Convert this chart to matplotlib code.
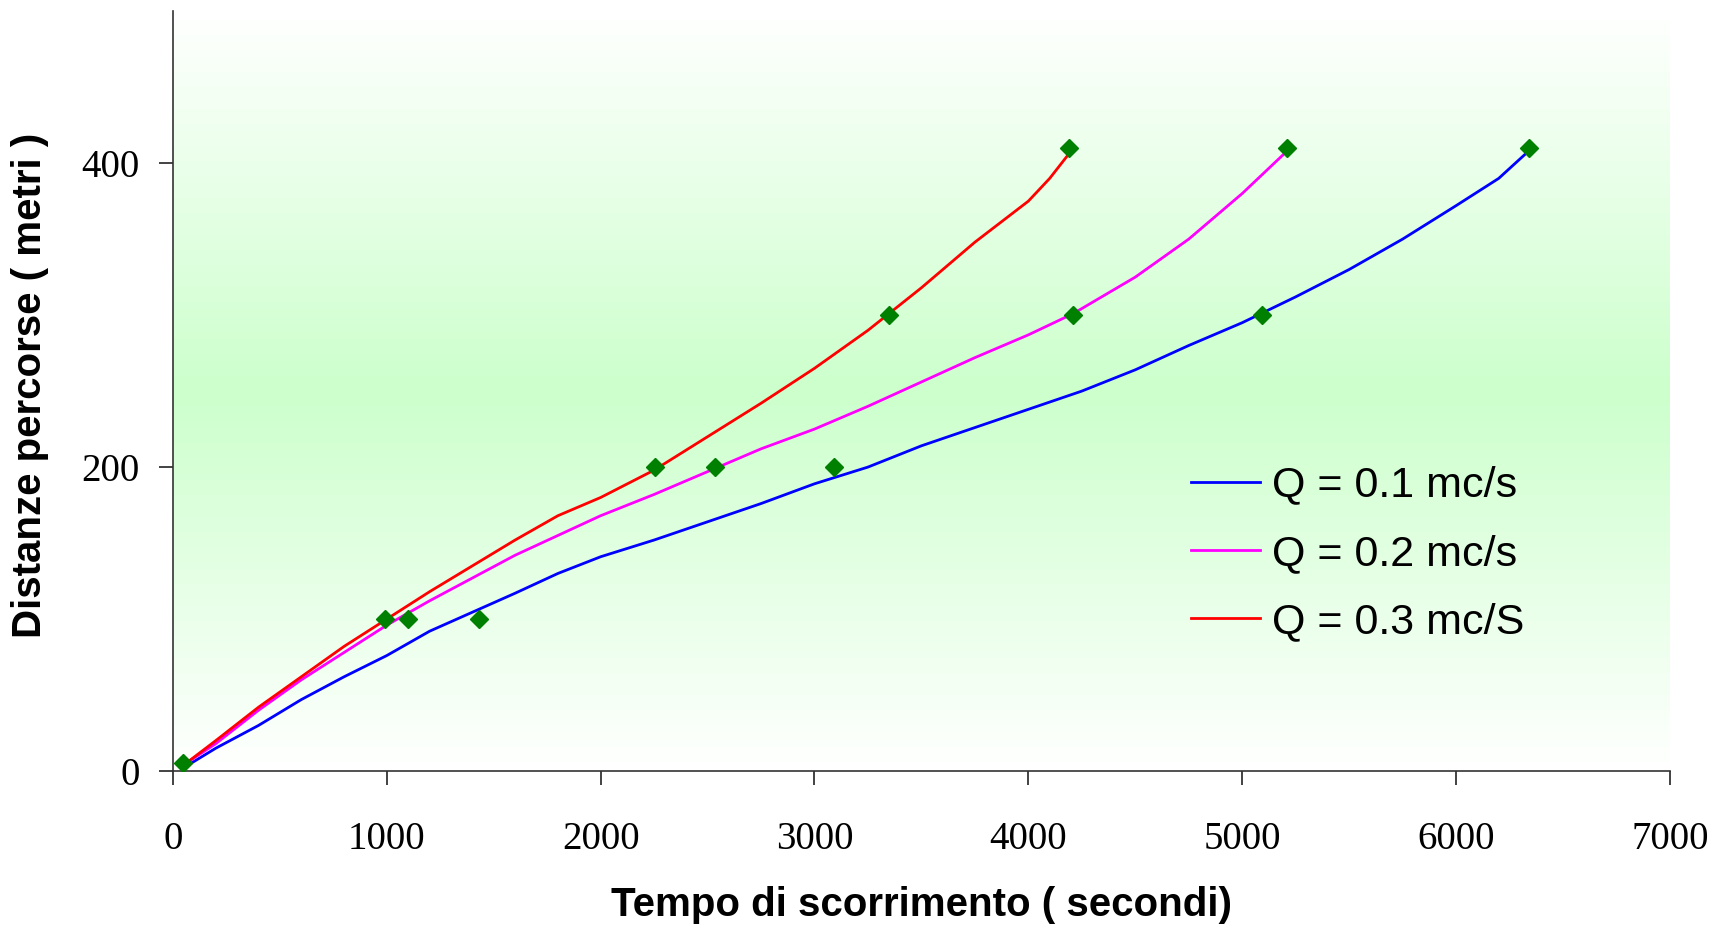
import numpy as np
import matplotlib.pyplot as plt
from matplotlib.colors import LinearSegmentedColormap

# Q = 0.1 mc/s
t_q1 = [60, 200, 400, 600, 800, 1000, 1200, 1440, 1600, 1800, 2000, 2250, 2500, 2750,
        3000, 3250, 3500, 3750, 4000, 4250, 4500, 4750, 5000, 5250, 5500, 5750, 6000, 6200, 6340]
d_q1 = [3, 15, 30, 47, 62, 76, 92, 107, 117, 130, 141, 152, 164, 176,
        189, 200, 214, 226, 238, 250, 264, 280, 295, 312, 330, 350, 372, 390, 408]
# Q = 0.2 mc/s
t_q2 = [60, 200, 400, 600, 800, 1000, 1200, 1400, 1600, 1800, 2000, 2250, 2500, 2750,
        3000, 3250, 3500, 3750, 4000, 4210, 4500, 4750, 5000, 5210]
d_q2 = [5, 18, 40, 60, 78, 96, 112, 127, 142, 155, 168, 182, 197, 212,
        225, 240, 256, 272, 287, 301, 325, 350, 380, 408]
# Q = 0.3 mc/S
t_q3 = [60, 200, 400, 600, 800, 1000, 1200, 1400, 1600, 1800, 2000, 2250, 2500, 2750,
        3000, 3250, 3500, 3750, 4000, 4100, 4200]
d_q3 = [5, 20, 42, 62, 82, 100, 118, 135, 152, 168, 180, 198, 220, 242,
        265, 290, 318, 348, 375, 390, 408]

# measured points (green diamonds)
meas_t = [46, 993, 1101, 1430, 2253, 2535, 3091, 3348, 4207, 5092, 4192, 5210, 6341]
meas_d = [5, 100, 100, 100, 200, 200, 200, 300, 300, 300, 410, 410, 410]

labels = ['Q = 0.1 mc/s', 'Q = 0.2 mc/s', 'Q = 0.3 mc/S']
colors = ['#0000ff', '#ff00ff', '#ff0000']

fig = plt.figure(figsize=(17.25, 9.35), dpi=100)
ax = fig.add_axes([0.1003, 0.1754, 0.8677, 0.8126])

# vertical gradient background: white - light green - white
cmap = LinearSegmentedColormap.from_list('bg', ['#ffffff', '#ccffcc', '#ffffff'])
grad = np.linspace(0, 1, 256).reshape(-1, 1)
ax.imshow(grad, cmap=cmap, aspect='auto', extent=[0, 1, 0, 1],
          transform=ax.transAxes, zorder=0)

for t, d, lab, c in zip([t_q1, t_q2, t_q3], [d_q1, d_q2, d_q3], labels, colors):
    ax.plot(t, d, color=c, lw=2, label=lab, zorder=2)
ax.plot(meas_t, meas_d, linestyle='none', marker='D', ms=9, color='#008000', zorder=3)

ax.set_xlim(0, 7000)
ax.set_ylim(0, 500)
ax.set_xticks(range(0, 7001, 1000))
ax.set_yticks([0, 200, 400])
for s in ['top', 'right']:
    ax.spines[s].set_visible(False)
for s in ['left', 'bottom']:
    ax.spines[s].set_color('#333333')
    ax.spines[s].set_linewidth(1.2)
ax.tick_params(direction='out', length=10, width=1.2, color='#222222')
ax.tick_params(axis='x', pad=26)
ax.tick_params(axis='y', pad=14)
for lbl in ax.get_xticklabels() + ax.get_yticklabels():
    lbl.set_fontfamily('Liberation Serif')
    lbl.set_fontsize(28)

ax.set_xlabel('Tempo di scorrimento ( secondi)', fontsize=29, fontweight='bold',
              family='Liberation Sans', labelpad=20)
ax.set_ylabel('Distanze percorse ( metri )', fontsize=29, fontweight='bold',
              family='Liberation Sans')
ax.yaxis.set_label_coords(-0.083, 0.507)

ax.legend(loc='center left', bbox_to_anchor=(0.68, 0.2855), frameon=False,
          prop={'family': 'Liberation Sans', 'size': 31}, handlelength=1.6,
          labelspacing=0.66, handletextpad=0.28, borderpad=0, borderaxespad=0)

fig.savefig('out.png', dpi=100)
